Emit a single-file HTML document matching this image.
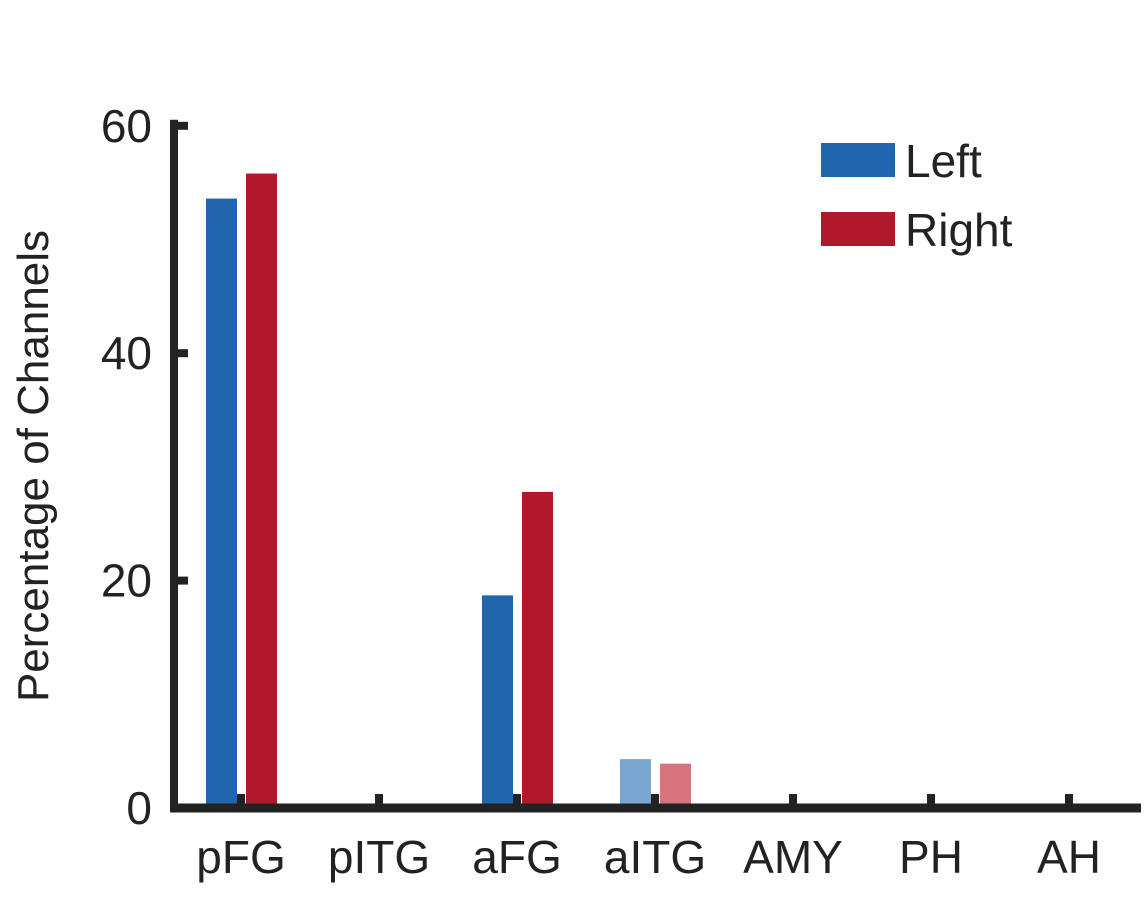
<!DOCTYPE html>
<html><head><meta charset="utf-8"><style>
body{margin:0;background:#fff;}
svg{display:block;font-family:"Liberation Sans",sans-serif;}
</style></head><body>
<svg id="chart" width="1148" height="900">
<g id="bars"></g>
<g id="axes"></g>
<text transform="translate(48,466) rotate(-90)" text-anchor="middle" font-size="44" fill="#222">Percentage of Channels</text>
<g>
<rect x="821" y="143" width="74" height="34" fill="#2166ac"/>
<text x="905" y="177" font-size="46" fill="#222">Left</text>
<rect x="821" y="212" width="74" height="34" fill="#b2182b"/>
<text x="905" y="246" font-size="46" fill="#222">Right</text>
</g>
</svg>
<script>
const categories=["pFG","pITG","aFG","aITG","AMY","PH","AH"];
const leftValues=[53.6,0,18.7,4.3,0,0,0];
const rightValues=[55.8,0,27.8,3.9,0,0,0];
const faded=[false,false,false,true,false,false,false];
const yTicks=[0,20,40,60];
const NS="http://www.w3.org/2000/svg";
const x0=174,y0=808,pxPerUnit=11.37,firstCenter=241,step=138,barW=31;
const yScale=v=>y0-v*pxPerUnit;
const xCenter=i=>firstCenter+i*step;
function mk(tag,attrs){const e=document.createElementNS(NS,tag);for(const k in attrs)e.setAttribute(k,attrs[k]);return e;}
const bars=document.getElementById('bars'),axes=document.getElementById('axes');
categories.forEach((c,i)=>{
  const cx=xCenter(i);
  if(leftValues[i]>0){
    const r=mk('rect',{x:cx-35,y:yScale(leftValues[i]),width:barW,height:leftValues[i]*pxPerUnit,fill:faded[i]?'#7aa6d2':'#2166ac'});
    
    
    bars.appendChild(r);
  }
  if(rightValues[i]>0){
    const r=mk('rect',{x:cx+5,y:yScale(rightValues[i]),width:barW,height:rightValues[i]*pxPerUnit,fill:faded[i]?'#d6737c':'#b2182b'});
    
    
    bars.appendChild(r);
  }
  const t=mk('line',{x1:cx,x2:cx,y1:y0,y2:y0-14,stroke:'#222','stroke-width':8});
  
  
  axes.appendChild(t);
  const l=mk('text',{x:cx,y:873,'text-anchor':'middle','font-size':46,fill:'#222'});
  l.textContent=c;
  
  
  axes.appendChild(l);
});
yTicks.forEach(v=>{
  const y=yScale(v);
  const t=mk('line',{x1:x0,x2:x0+14,y1:y,y2:y,stroke:'#222','stroke-width':8});
  
  
  axes.appendChild(t);
  const l=mk('text',{x:152,y:y+16,'text-anchor':'end','font-size':46,fill:'#222'});
  l.textContent=v;
  
  
  axes.appendChild(l);
});
const ya=mk('line',{x1:x0,x2:x0,y1:yScale(60)-6,y2:y0+4,stroke:'#222','stroke-width':8});


axes.appendChild(ya);
const xa=mk('line',{x1:x0-4,x2:1141,y1:y0,y2:y0,stroke:'#222','stroke-width':9});


axes.appendChild(xa);
</script>
</body></html>
